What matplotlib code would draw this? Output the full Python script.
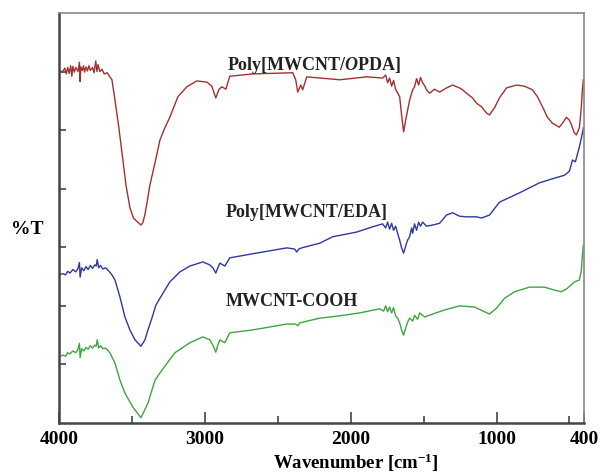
import numpy as np
import matplotlib
matplotlib.use("Agg")
import matplotlib.pyplot as plt

plt.rcParams['font.family'] = ['Liberation Serif', 'DejaVu Serif']
plt.rcParams['mathtext.fontset'] = 'custom'
plt.rcParams['mathtext.rm'] = 'Liberation Serif'
plt.rcParams['mathtext.bf'] = 'Liberation Serif:bold'
plt.rcParams['mathtext.it'] = 'Liberation Serif:italic:bold'

# FTIR spectra (wavenumber in cm-1, transmittance in arbitrary offset units)
opda_wn = [4000, 3975, 3960, 3950, 3940, 3930, 3920, 3912, 3905, 3895, 3885, 3870, 3860, 3855,
           3850, 3840, 3832, 3825, 3815, 3805, 3795, 3785, 3770, 3760, 3748, 3740, 3732, 3720,
           3705, 3690, 3670, 3651, 3637, 3616, 3590, 3562, 3540, 3514, 3490, 3465, 3438, 3425,
           3411, 3395, 3377, 3342, 3308, 3274, 3240, 3185, 3123, 3055, 2986, 2952, 2925, 2904,
           2884, 2856, 2829, 2671, 2397, 2377, 2363, 2342, 2329, 2301, 2075, 1890, 1781, 1760,
           1747, 1733, 1719, 1706, 1692, 1664, 1651, 1637, 1623, 1596, 1575, 1562, 1548, 1534,
           1521, 1507, 1493, 1480, 1459, 1425, 1390, 1343, 1301, 1253, 1233, 1206, 1164, 1137,
           1103, 1068, 1048, 1014, 980, 932, 863, 808, 754, 719, 685, 651, 617, 569, 541, 521,
           500, 486, 466, 452, 432, 425, 418, 411, 405]
opda_t = [60.1, 60.0, 60.6, 59.6, 60.7, 59.7, 61.0, 59.2, 60.9, 59.9, 60.7, 60.0, 61.6, 58.3,
          60.8, 60.2, 61.0, 59.9, 60.8, 60.1, 61.0, 60.2, 60.7, 59.8, 61.8, 60.0, 61.2, 60.0,
          60.4, 59.6, 59.8, 59.1, 58.6, 55.1, 50.5, 44.9, 40.5, 36.8, 35.0, 34.4, 33.8, 34.2,
          35.6, 37.8, 40.6, 44.4, 48.3, 50.4, 52.2, 55.7, 57.4, 58.4, 58.2, 57.5, 55.5, 56.9,
          57.4, 57.0, 59.2, 59.6, 59.8, 58.6, 56.5, 57.7, 56.9, 59.1, 58.6, 59.1, 58.9, 59.4,
          58.1, 58.9, 57.5, 58.5, 57.0, 55.7, 52.6, 49.7, 51.7, 55.1, 56.9, 57.4, 58.8, 57.7,
          59.0, 58.1, 57.6, 56.9, 56.3, 57.0, 56.5, 57.2, 57.7, 57.2, 56.9, 56.3, 55.5, 54.6,
          54.0, 52.9, 52.6, 53.8, 55.5, 57.2, 57.7, 57.5, 56.9, 55.7, 54.0, 52.2, 51.2, 50.5,
          51.4, 52.2, 51.7, 50.9, 49.5, 49.2, 50.4, 52.1, 54.1, 56.9, 58.6]

eda_wn = [4000, 3975, 3955, 3940, 3925, 3905, 3885, 3870, 3860, 3855, 3845, 3830, 3815, 3800,
          3785, 3770, 3755, 3745, 3738, 3728, 3715, 3700, 3680, 3660, 3637, 3616, 3582, 3548,
          3514, 3479, 3438, 3411, 3390, 3363, 3336, 3308, 3240, 3171, 3103, 3014, 2966, 2945,
          2925, 2911, 2897, 2863, 2829, 2671, 2438, 2384, 2370, 2356, 2336, 2212, 2123, 1959,
          1849, 1781, 1760, 1747, 1733, 1719, 1706, 1692, 1678, 1664, 1651, 1637, 1623, 1610,
          1596, 1582, 1575, 1562, 1548, 1534, 1521, 1507, 1480, 1438, 1390, 1343, 1301, 1253,
          1206, 1137, 1103, 1048, 980, 842, 706, 603, 534, 500, 479, 459, 432, 411, 404]
eda_t = [25.3, 25.5, 25.3, 25.9, 25.6, 26.2, 25.8, 26.4, 27.4, 24.9, 26.5, 26.0, 26.7, 26.2,
         26.9, 26.4, 27.0, 26.8, 27.9, 26.5, 26.9, 26.3, 26.5, 26.0, 25.3, 24.4, 21.5, 18.1,
         15.9, 14.2, 13.1, 14.2, 15.9, 17.9, 20.1, 21.3, 24.1, 25.8, 26.8, 27.5, 27.0, 26.5,
         25.6, 26.5, 27.3, 26.8, 28.2, 28.9, 29.9, 29.7, 29.2, 29.7, 29.9, 30.7, 31.8, 32.6,
         33.5, 34.0, 33.3, 34.3, 33.1, 34.1, 32.9, 33.6, 32.4, 31.2, 29.9, 29.0, 30.2, 31.2,
         31.8, 33.3, 32.4, 34.0, 32.9, 34.3, 33.6, 34.3, 33.6, 33.8, 34.1, 35.5, 35.9, 35.3,
         35.2, 35.2, 35.0, 35.5, 37.7, 39.3, 41.0, 41.8, 42.3, 43.0, 44.9, 44.6, 47.1, 49.5, 50.4]

cooh_wn = [4000, 3975, 3955, 3940, 3925, 3905, 3885, 3870, 3860, 3855, 3845, 3830, 3815, 3800,
           3785, 3770, 3755, 3745, 3738, 3728, 3715, 3700, 3680, 3651, 3616, 3582, 3548, 3493,
           3438, 3390, 3342, 3295, 3205, 3103, 3014, 2966, 2945, 2925, 2911, 2897, 2863, 2829,
           2671, 2438, 2377, 2363, 2349, 2212, 2075, 1938, 1801, 1774, 1760, 1747, 1733, 1719,
           1706, 1692, 1678, 1664, 1651, 1637, 1623, 1610, 1596, 1575, 1562, 1541, 1527, 1493,
           1438, 1356, 1253, 1151, 1082, 1048, 1000, 945, 877, 774, 671, 603, 555, 514, 466,
           432, 418, 411, 404]
cooh_t = [11.3, 11.6, 11.4, 12.0, 11.8, 12.3, 12.0, 12.6, 13.6, 11.2, 12.7, 12.3, 12.9, 12.6,
          13.2, 12.8, 13.3, 13.1, 14.2, 12.8, 13.2, 12.7, 12.8, 12.0, 10.2, 7.3, 5.1, 2.7,
          0.9, 3.4, 7.3, 9.0, 12.0, 13.7, 14.7, 14.2, 13.3, 12.1, 13.3, 14.2, 13.7, 15.4,
          15.9, 16.9, 16.9, 16.6, 17.1, 17.9, 18.3, 18.8, 19.5, 19.1, 20.0, 19.0, 19.8, 18.8,
          19.7, 18.3, 17.9, 17.1, 15.9, 15.0, 16.2, 17.2, 17.9, 17.4, 18.4, 17.7, 18.8, 18.1,
          18.6, 19.3, 20.0, 19.8, 19.0, 18.6, 19.6, 21.3, 22.4, 23.2, 23.2, 22.7, 22.4, 23.0, 24.1,
          24.4, 26.1, 28.7, 30.4]

labels = ['Poly[MWCNT/$\\mathit{O}$PDA]', 'Poly[MWCNT/EDA]', 'MWCNT-COOH']
label_pos = [(2850, 61.0), (2856, 36.0), (2856, 20.7)]
colors = ['#A33030', '#3038A0', '#3FA53F']

fig = plt.figure(figsize=(6.04, 4.76), dpi=100)
ax = fig.add_axes([0.0977, 0.1113, 0.8692, 0.8614])

ax.plot(opda_wn, opda_t, color=colors[0], lw=1.0)
ax.plot(eda_wn, eda_t, color=colors[1], lw=1.0)
ax.plot(cooh_wn, cooh_t, color=colors[2], lw=1.0)

for txt, (x, y) in zip(labels, label_pos):
    ax.text(x, y, txt, fontsize=13, fontweight='bold', color='#222222', ha='left', va='center')

ax.set_xlim(4000, 400)
ax.set_ylim(0, 70)
ax.set_xticks([4000, 3000, 2000, 1000, 400])
ax.set_xticklabels(['4000', '3000', '2000', '1000', '400'])
ax.set_xticks([3500, 2500, 1500, 500], minor=True)
ax.set_yticks([10, 20, 30, 40, 50, 60])
ax.set_yticklabels([])
ax.tick_params(axis='x', which='major', direction='in', length=8, width=1.2, color='#444444',
               labelsize=14, pad=6)
ax.tick_params(axis='x', which='minor', direction='in', length=5, width=1.2, color='#444444')
ax.tick_params(axis='y', direction='in', length=5, width=1.2, color='#444444')
for lab in ax.get_xticklabels():
    lab.set_fontweight('bold')

ax.spines['left'].set_color('#444444')
ax.spines['left'].set_linewidth(1.8)
ax.spines['bottom'].set_color('#444444')
ax.spines['bottom'].set_linewidth(1.8)
ax.spines['top'].set_color('#888888')
ax.spines['top'].set_linewidth(1.2)
ax.spines['right'].set_color('#888888')
ax.spines['right'].set_linewidth(1.2)

fig.text(0.589, 0.027, 'Wavenumber [cm$\\mathbf{^{-1}}$]', fontsize=13.5, fontweight='bold',
         ha='center', va='center')
fig.text(0.045, 0.517, '%T', fontsize=14, fontweight='bold', ha='center', va='center')

fig.savefig('out.png', dpi=100)
